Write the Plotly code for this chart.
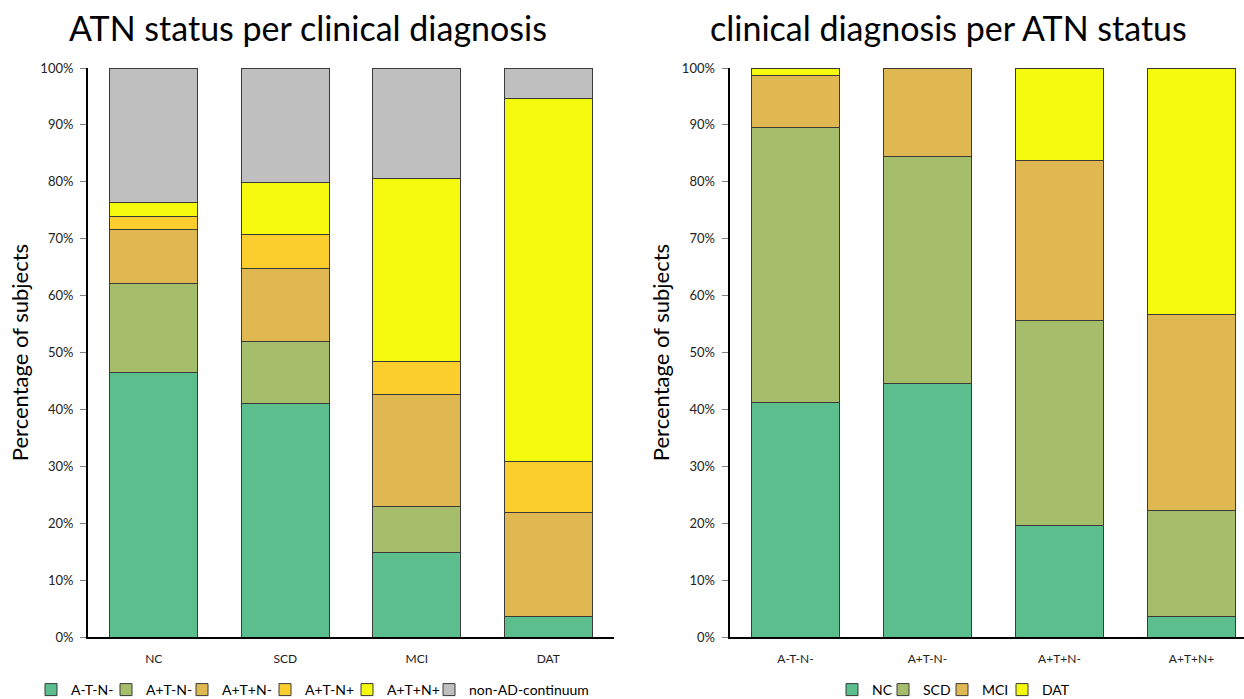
import plotly.graph_objects as go

# Left panel: ATN status distribution within each clinical diagnosis (%)
diagnoses = ["NC", "SCD", "MCI", "DAT"]
atn_names = ["A-T-N-", "A+T-N-", "A+T+N-", "A+T-N+", "A+T+N+", "non-AD-continuum"]
atn_values = {
    "A-T-N-":           [46.4, 41.1, 14.9, 3.6],
    "A+T-N-":           [15.7, 10.8, 8.0, 0.0],
    "A+T+N-":           [9.5, 12.9, 19.7, 18.2],
    "A+T-N+":           [2.3, 6.0, 5.8, 9.1],
    "A+T+N+":           [2.4, 9.0, 32.1, 63.7],
    "non-AD-continuum": [23.7, 20.2, 19.5, 5.4],
}
atn_colors = ["#5BBE8C", "#A6BE6C", "#E0B852", "#FBCE2E", "#F5F90D", "#BFBFBF"]

# Right panel: clinical diagnosis distribution within each ATN status (%)
atn_groups = ["A-T-N-", "A+T-N-", "A+T+N-", "A+T+N+"]
dx_values = {
    "NC":  [41.3, 44.5, 19.6, 3.6],
    "SCD": [48.3, 40.0, 36.0, 18.6],
    "MCI": [9.1, 15.5, 28.1, 34.5],
    "DAT": [1.3, 0.0, 16.3, 43.3],
}
dx_colors = ["#5BBE8C", "#A6BE6C", "#E0B852", "#F5F90D"]

# Left edge (px) of each legend swatch along the bottom row
atn_key_x = [45, 120, 196, 279, 361, 443]
dx_key_x = [846, 897, 956, 1016]

FONT = "Lato, 'Open Sans', sans-serif"
W, H = 1244, 699
KEY_OFFSET = 14  # distance from legend box edge to swatch edge

fig = go.Figure()
legends = {}
n = 0

for name, col, kx in zip(atn_names, atn_colors, atn_key_x):
    n += 1
    lname = "legend" if n == 1 else f"legend{n}"
    fig.add_trace(go.Bar(
        x=diagnoses, y=atn_values[name], name=name, showlegend=True,
        marker=dict(color=col, line=dict(color="#3a3a3a", width=1)),
        xaxis="x", yaxis="y", legend=lname,
    ))
    legends[lname] = (kx - KEY_OFFSET) / W

for name, col, kx in zip(dx_values.keys(), dx_colors, dx_key_x):
    n += 1
    lname = f"legend{n}"
    fig.add_trace(go.Bar(
        x=atn_groups, y=dx_values[name], name=name, showlegend=True,
        marker=dict(color=col, line=dict(color="#3a3a3a", width=1)),
        xaxis="x2", yaxis="y2", legend=lname,
    ))
    legends[lname] = (kx - KEY_OFFSET) / W

ydom = [(H - 637) / H, (H - 68) / H]
yax = dict(
    range=[0, 100], dtick=10, ticksuffix="%", showgrid=False, zeroline=False,
    showline=True, linecolor="black", linewidth=2,
    ticks="outside", ticklen=6, tickcolor="#808080", ticklabelstandoff=4,
    tickfont=dict(family=FONT, size=13, color="#222"),
    title=dict(text="Percentage of subjects", font=dict(family=FONT, size=22, color="black"), standoff=6),
    domain=ydom, automargin=False,
)
xax = dict(
    showgrid=False, zeroline=False, showline=True, linecolor="black", linewidth=2,
    ticks="", tickfont=dict(family=FONT, size=12, color="#222"), ticklabelstandoff=10,
    automargin=False,
)

legend_layout = {
    lname: dict(
        orientation="h", yref="container", y=(H - 690) / H, yanchor="middle",
        x=lx, xanchor="left", font=dict(family=FONT, size=14),
        itemwidth=30, bgcolor="rgba(0,0,0,0)", borderwidth=0,
    )
    for lname, lx in legends.items()
}

fig.update_layout(
    width=W, height=H,
    margin=dict(l=0, r=0, t=0, b=0, autoexpand=False),
    paper_bgcolor="white", plot_bgcolor="white",
    barmode="stack", bargap=0.33, showlegend=True,
    font=dict(family=FONT, color="black"),
    xaxis=dict(xax, domain=[88 / W, 614 / W], range=[-0.5, 3.5], anchor="y"),
    yaxis=dict(yax, anchor="x"),
    xaxis2=dict(xax, domain=[729.5 / W, 1.0], range=[-0.5, 3.398], anchor="y2"),
    yaxis2=dict(yax, anchor="x2"),
    annotations=[
        dict(text="ATN status per clinical diagnosis", x=308 / W, y=(H - 28) / H,
             xref="paper", yref="paper", showarrow=False, xanchor="center", yanchor="middle",
             font=dict(family=FONT, size=34, color="black")),
        dict(text="clinical diagnosis per ATN status", x=948 / W, y=(H - 28) / H,
             xref="paper", yref="paper", showarrow=False, xanchor="center", yanchor="middle",
             font=dict(family=FONT, size=34, color="black")),
    ],
    **legend_layout,
)

fig.write_html("out.html")
